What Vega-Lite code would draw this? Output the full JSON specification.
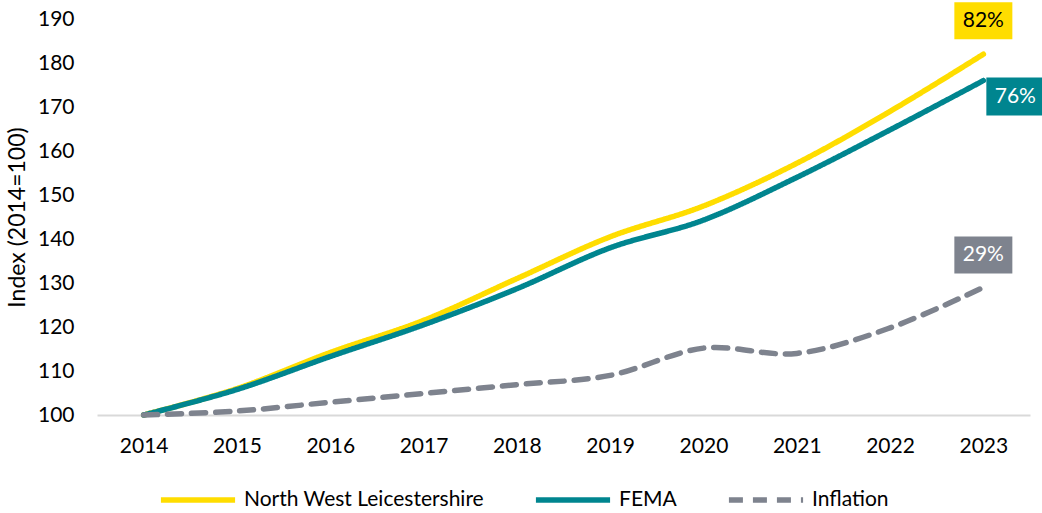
{
  "$schema": "https://vega.github.io/schema/vega-lite/v6.json",
  "width": 933,
  "height": 396,
  "autosize": {"type": "none"},
  "padding": {"left": 97, "top": 19, "right": 12, "bottom": 98},
  "background": "#ffffff",
  "config": {"font": "Lato", "view": {"stroke": null}},
  "datasets": {
    "series": [
      {"series": "North West Leicestershire", "year": 2014, "value": 100},
      {"series": "North West Leicestershire", "year": 2015, "value": 106},
      {"series": "North West Leicestershire", "year": 2016, "value": 114.2},
      {"series": "North West Leicestershire", "year": 2017, "value": 121.5},
      {"series": "North West Leicestershire", "year": 2018, "value": 131},
      {"series": "North West Leicestershire", "year": 2019, "value": 140.5},
      {"series": "North West Leicestershire", "year": 2020, "value": 147.5},
      {"series": "North West Leicestershire", "year": 2021, "value": 157.2},
      {"series": "North West Leicestershire", "year": 2022, "value": 169},
      {"series": "North West Leicestershire", "year": 2023, "value": 182},
      {"series": "FEMA", "year": 2014, "value": 100},
      {"series": "FEMA", "year": 2015, "value": 105.8},
      {"series": "FEMA", "year": 2016, "value": 113.3},
      {"series": "FEMA", "year": 2017, "value": 120.5},
      {"series": "FEMA", "year": 2018, "value": 128.7},
      {"series": "FEMA", "year": 2019, "value": 138},
      {"series": "FEMA", "year": 2020, "value": 144.3},
      {"series": "FEMA", "year": 2021, "value": 154},
      {"series": "FEMA", "year": 2022, "value": 164.8},
      {"series": "FEMA", "year": 2023, "value": 176},
      {"series": "Inflation", "year": 2014, "value": 100},
      {"series": "Inflation", "year": 2015, "value": 100.9},
      {"series": "Inflation", "year": 2016, "value": 102.9},
      {"series": "Inflation", "year": 2017, "value": 104.9},
      {"series": "Inflation", "year": 2018, "value": 106.9},
      {"series": "Inflation", "year": 2019, "value": 109},
      {"series": "Inflation", "year": 2020, "value": 115.2},
      {"series": "Inflation", "year": 2021, "value": 114},
      {"series": "Inflation", "year": 2022, "value": 119.8},
      {"series": "Inflation", "year": 2023, "value": 129}
    ],
    "ends": [
      {"series": "North West Leicestershire", "year": 2023, "value": 182, "label": "82%"},
      {"series": "FEMA", "year": 2023, "value": 176, "label": "76%"},
      {"series": "Inflation", "year": 2023, "value": 129, "label": "29%"}
    ]
  },
  "encoding": {
    "x": {
      "field": "year",
      "type": "ordinal",
      "scale": {"type": "point", "padding": 0.5},
      "axis": {
        "title": null,
        "labelAngle": 0,
        "domainColor": "#D9D9D9",
        "domainWidth": 2,
        "ticks": false,
        "grid": false,
        "labelFontSize": 21,
        "labelColor": "#000000",
        "labelPadding": 20
      }
    },
    "y": {
      "field": "value",
      "type": "quantitative",
      "scale": {"domain": [100, 190], "nice": false, "zero": false},
      "axis": {
        "title": "Index (2014=100)",
        "values": [100, 110, 120, 130, 140, 150, 160, 170, 180, 190],
        "domain": false,
        "ticks": false,
        "grid": false,
        "labelFontSize": 21,
        "labelColor": "#000000",
        "labelPadding": 23,
        "titleFontSize": 23,
        "titleFontWeight": "normal",
        "titleColor": "#000000",
        "titlePadding": 8
      }
    }
  },
  "layer": [
    {
      "data": {"name": "series"},
      "mark": {"type": "line", "interpolate": "cardinal", "strokeWidth": 5.5, "strokeCap": "round"},
      "encoding": {
        "color": {
          "field": "series",
          "type": "nominal",
          "scale": {
            "domain": ["North West Leicestershire", "FEMA", "Inflation"],
            "range": ["#FFDD00", "#00858F", "#7E838E"]
          },
          "legend": {
            "title": null,
            "orient": "none",
            "legendX": 61,
            "legendY": 441,
            "direction": "horizontal",
            "symbolType": "stroke",
            "symbolSize": 5500,
            "symbolStrokeWidth": 5.5,
            "labelFontSize": 21,
            "labelColor": "#000000",
            "labelOffset": 6,
            "columnPadding": 40,
            "labelLimit": 400
          }
        },
        "strokeDash": {
          "field": "series",
          "type": "nominal",
          "scale": {
            "domain": ["North West Leicestershire", "FEMA", "Inflation"],
            "range": [[1, 0], [1, 0], [14, 10]]
          },
          "legend": {
            "title": null,
            "orient": "none",
            "legendX": 61,
            "legendY": 441,
            "direction": "horizontal",
            "symbolType": "stroke",
            "symbolSize": 5500,
            "symbolStrokeWidth": 5.5,
            "labelFontSize": 21,
            "labelColor": "#000000",
            "labelOffset": 6,
            "columnPadding": 40,
            "labelLimit": 400
          }
        }
      }
    },
    {
      "data": {"name": "ends"},
      "transform": [{"filter": "datum.series === 'North West Leicestershire'"}],
      "layer": [
        {"mark": {"type": "point", "shape": "M-29,-52H29V-15H-29Z", "size": 4, "filled": true, "color": "#FFDD00", "opacity": 1, "strokeWidth": 0}},
        {"mark": {"type": "text", "dy": -33, "align": "center", "baseline": "middle", "fontSize": 21, "color": "#000000"}, "encoding": {"text": {"field": "label"}}}
      ]
    },
    {
      "data": {"name": "ends"},
      "transform": [{"filter": "datum.series === 'FEMA'"}],
      "layer": [
        {"mark": {"type": "point", "shape": "M3,-3H62V35H3Z", "size": 4, "filled": true, "color": "#00858F", "opacity": 1, "strokeWidth": 0}},
        {"mark": {"type": "text", "dx": 32, "dy": 16, "align": "center", "baseline": "middle", "fontSize": 21, "color": "#ffffff"}, "encoding": {"text": {"field": "label"}}}
      ]
    },
    {
      "data": {"name": "ends"},
      "transform": [{"filter": "datum.series === 'Inflation'"}],
      "layer": [
        {"mark": {"type": "point", "shape": "M-29,-51H29V-14H-29Z", "size": 4, "filled": true, "color": "#7E838E", "opacity": 1, "strokeWidth": 0}},
        {"mark": {"type": "text", "dy": -32, "align": "center", "baseline": "middle", "fontSize": 21, "color": "#ffffff"}, "encoding": {"text": {"field": "label"}}}
      ]
    }
  ]
}
